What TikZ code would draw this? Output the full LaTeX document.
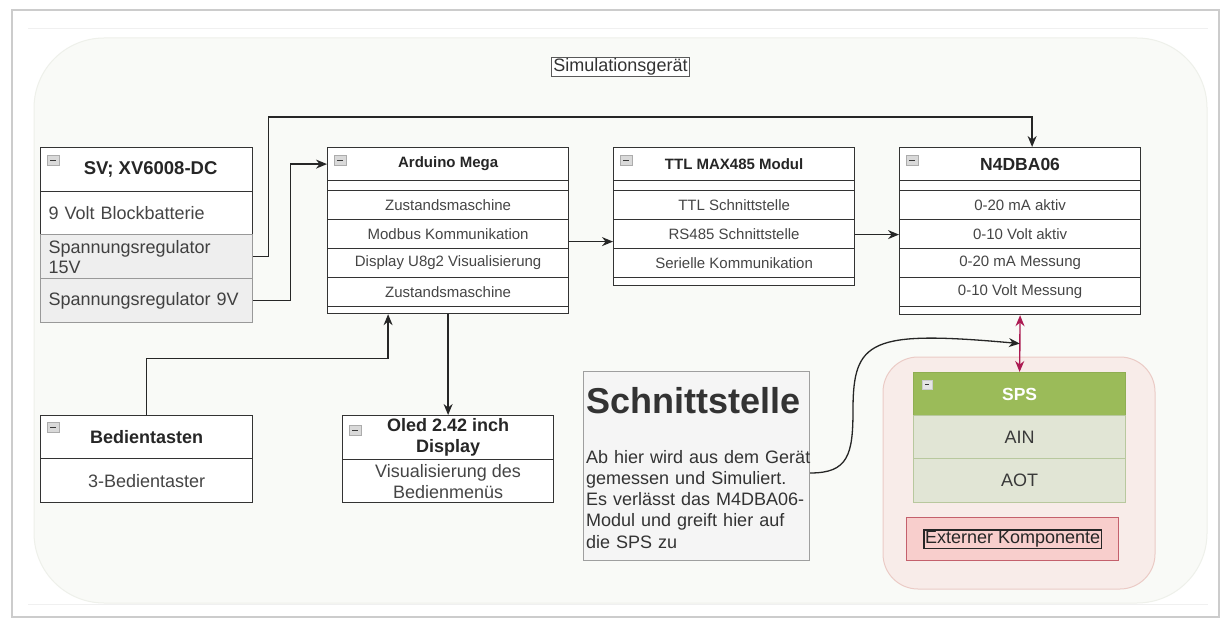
\documentclass[tikz,border=0pt]{standalone}
\usepackage{fontspec}
\setmainfont{Liberation Sans}
\usetikzlibrary{arrows.meta,calc}
\definecolor{boxline}{HTML}{333333}
\definecolor{rowtext}{HTML}{454545}
\definecolor{contfill}{HTML}{F9FAF7}
\definecolor{contline}{HTML}{EEF0EA}
\definecolor{greyrow}{HTML}{EEEEEE}
\definecolor{greyline}{HTML}{999999}
\definecolor{pinkfill}{HTML}{F8ECE9}
\definecolor{pinkline}{HTML}{EBCBC6}
\definecolor{spsgreen}{HTML}{9BBB59}
\definecolor{spsline}{HTML}{8FAE52}
\definecolor{spsrow}{HTML}{E1E5D5}
\definecolor{spsrowline}{HTML}{B8C89E}
\definecolor{extfill}{HTML}{F8CECC}
\definecolor{extline}{HTML}{C4606C}
\definecolor{magenta}{HTML}{AC1A52}
\definecolor{schfill}{HTML}{F5F5F5}
\begin{document}
\begin{tikzpicture}[x=1pt,y=-1pt,
  cell/.style={draw=boxline, line width=1.2pt, fill=white, inner sep=0pt, anchor=north west,
    text=rowtext, font=\fontsize{15}{18}\selectfont, align=center},
  head/.style={cell, text=black!85, font=\fontsize{15}{18}\selectfont\bfseries},
  bighead/.style={cell, text=black!85, font=\fontsize{18}{21}\selectfont\bfseries},
  bigcell/.style={cell, font=\fontsize{18}{21}\selectfont},
  minusicon/.style={draw=gray!65, fill=gray!30, line width=0.6pt, minimum width=12pt, minimum height=10pt,
    inner sep=0pt, anchor=north west,
    path picture={\draw[gray!45!black, line width=1.1pt]
      ([xshift=3pt]path picture bounding box.west) -- ([xshift=-3pt]path picture bounding box.east);}},
  arr/.style={draw=black!85, line width=1.3pt, -{Stealth[length=11pt,width=9pt]}},
  magarr/.style={draw=magenta, line width=1.4pt, {Stealth[length=11pt,width=9pt]}-{Stealth[length=11pt,width=9pt]}}
]
\useasboundingbox (0,0) rectangle (1225,620);
\fill[white] (0,0) rectangle (1225,620);
% page frame
\draw[gray!40, line width=2pt] (12,10) rectangle (1219,617);
\draw[gray!12, line width=1pt] (28,29) -- (1208,29);
\draw[gray!12, line width=1pt] (28,604) -- (1208,604);
% container
\draw[contline, fill=contfill, line width=1pt, rounded corners=70pt] (34,38) rectangle (1207,603);
\node[draw=gray!70!black, fill=white, line width=1pt, inner sep=1.5pt, font=\fontsize{18}{21}\selectfont, text=black!80] (simlabel) at (620.5,67) {Simulationsger\"at};

% SV box
\node[cell, minimum width=212pt, minimum height=44pt, font=\fontsize{18.5}{21}\selectfont\bfseries, text=black!85] (svh) at (40,147) {\hspace*{8pt}SV; XV6008-DC};
\node[cell, minimum width=212pt, minimum height=43pt, text width=196pt, inner xsep=8pt, align=left, font=\fontsize{18}{21}\selectfont] (sv2) at (40,191) {9 Volt Blockbatterie};
\node[cell, draw=greyline, fill=greyrow, minimum width=212pt, minimum height=44pt, text width=196pt, inner xsep=8pt, align=left, font=\fontsize{18}{20}\selectfont, text=gray!50!black] (sv3) at (40,234) {Spannungsregulator\\15V};
\node[cell, draw=greyline, fill=greyrow, minimum width=212pt, minimum height=44pt, text width=196pt, inner xsep=8pt, align=left, font=\fontsize{18}{21}\selectfont, text=gray!50!black] (sv4) at (40,278) {Spannungsregulator 9V};
\node[minusicon] (m1) at (47,155) {};

% Arduino box
\node[cell, minimum width=241pt, minimum height=166pt] (ard) at (327,147) {};
\node[head, minimum width=241pt, minimum height=33pt] (ardh) at (327,147) {Arduino Mega};
\node[cell, minimum width=241pt, minimum height=10pt] (ardg) at (327,180) {};
\node[cell, minimum width=241pt, minimum height=29pt] (ar1) at (327,190) {Zustandsmaschine};
\node[cell, minimum width=241pt, minimum height=29pt] (ar2) at (327,219) {Modbus Kommunikation};
\node[cell, minimum width=241pt, minimum height=29pt] (ar3) at (327,248) {Display U8g2 Visualisierung};
\node[cell, minimum width=241pt, minimum height=29pt] (ar4) at (327,277) {Zustandsmaschine};
\node[minusicon] (m2) at (334,155) {};

% TTL box
\node[cell, minimum width=241pt, minimum height=138pt] (ttl) at (613,147) {};
\node[head, minimum width=241pt, minimum height=33pt] (ttlh) at (613,147) {TTL MAX485 Modul};
\node[cell, minimum width=241pt, minimum height=10pt] (ttlg) at (613,180) {};
\node[cell, minimum width=241pt, minimum height=29pt] (tt1) at (613,190) {TTL Schnittstelle};
\node[cell, minimum width=241pt, minimum height=29pt] (tt2) at (613,219) {RS485 Schnittstelle};
\node[cell, minimum width=241pt, minimum height=29pt] (tt3) at (613,248) {Serielle Kommunikation};
\node[minusicon] (m3) at (620,155) {};

% N4DBA06 box
\node[cell, minimum width=241pt, minimum height=167pt] (n4) at (899,147) {};
\node[head, minimum width=241pt, minimum height=33pt, font=\fontsize{17.5}{20}\selectfont\bfseries] (n4h) at (899,147) {N4DBA06};
\node[cell, minimum width=241pt, minimum height=10pt] (n4g) at (899,180) {};
\node[cell, minimum width=241pt, minimum height=29pt] (n41) at (899,190) {0-20 mA aktiv};
\node[cell, minimum width=241pt, minimum height=29pt] (n42) at (899,219) {0-10 Volt aktiv};
\node[cell, minimum width=241pt, minimum height=29pt] (n43) at (899,248) {0-20 mA Messung};
\node[cell, minimum width=241pt, minimum height=29pt] (n44) at (899,277) {0-10 Volt Messung};
\node[minusicon] (m4) at (906,155) {};

% Bedientasten
\node[bighead, minimum width=212pt, minimum height=43pt] (bedh) at (40,415) {Bedientasten};
\node[bigcell, minimum width=212pt, minimum height=44pt] (bed1) at (40,458) {3-Bedientaster};
\node[minusicon] (m5) at (47,422) {};

% Oled
\node[bighead, minimum width=211pt, minimum height=44pt] (oledh) at (342,415) {Oled 2.42 inch\\Display};
\node[bigcell, minimum width=211pt, minimum height=43pt] (oled1) at (342,459) {Visualisierung des\\Bedienmen\"us};
\node[minusicon] (m6) at (349,425) {};

% Schnittstelle
\node[draw=gray!75, fill=schfill, line width=1.2pt, minimum width=226pt, minimum height=189pt, anchor=north west, inner sep=0pt] (schn) at (583,371) {};
\node[anchor=base west, inner sep=0pt, font=\fontsize{36}{40}\selectfont\bfseries, text=black!80] (schnt) at (586,413) {Schnittstelle};
\node[anchor=north west, inner sep=0pt, text width=225pt, align=left, font=\fontsize{18}{21.2}\selectfont, text=black!80] (schnb) at (586,450)
  {Ab hier wird aus dem Ger\"at\\gemessen und Simuliert.\\Es verl\"asst das M4DBA06-\\Modul und greift hier auf\\die SPS zu};

% external container
\draw[pinkline, fill=pinkfill, line width=1pt, rounded corners=35pt] (883,357) rectangle (1155,589);
\node[cell, draw=spsline, fill=spsgreen, text=white, font=\fontsize{17.5}{20}\selectfont\bfseries, minimum width=212pt, minimum height=43pt] (sps) at (913,372) {SPS};
\node[cell, draw=spsrowline, fill=spsrow, text=gray!45!black, font=\fontsize{18}{21}\selectfont, minimum width=212pt, minimum height=43pt] (sps1) at (913,415) {AIN};
\node[cell, draw=spsrowline, fill=spsrow, text=gray!45!black, font=\fontsize{18}{21}\selectfont, minimum width=212pt, minimum height=44pt] (sps2) at (913,458) {AOT};
\node[minusicon, draw=gray!40, fill=gray!20, minimum width=10pt, minimum height=9pt] (m7) at (922,380) {};
\node[draw=extline, fill=extfill, line width=1.2pt, minimum width=212pt, minimum height=43pt, anchor=north west, inner sep=0pt] (ext) at (906,517) {};
\node[draw=black!85, line width=1.2pt, inner sep=1pt, font=\fontsize{18}{21}\selectfont, text=black!85] (extl) at (ext.center) {Externer Komponente};

% connectors
\draw[arr] (sv3.east) -- ++(15,0) |- ([xshift=12pt,yshift=30pt]n4.north) -- ([xshift=12pt]n4.north);
\draw[arr] (sv4.east) -- ++(37,0) |- (ardh.west);
\draw[arr] ([yshift=-11pt]ard.east) -- ([yshift=-11pt]ard.east -| ttl.west);
\draw[arr] ([yshift=-18pt]ttl.east) -- ([yshift=-18pt]ttl.east -| n4.west);
\draw[arr] (bedh.north) |- ([xshift=-60pt,yshift=-44pt]ard.south) -- ([xshift=-60pt]ard.south);
\draw[arr] (ard.south) -- (oledh.north);
\draw[magarr] (n4.south) -- (sps.north);
\coordinate (mid) at ($(n4.south)!0.5!(sps.north)$);
\draw[arr] ([yshift=-102pt]schn.north east) .. controls (848,473) and (853,455) .. (853,410)
  .. controls (853,340) and (870,330) .. (mid);
\end{tikzpicture}
\end{document}
